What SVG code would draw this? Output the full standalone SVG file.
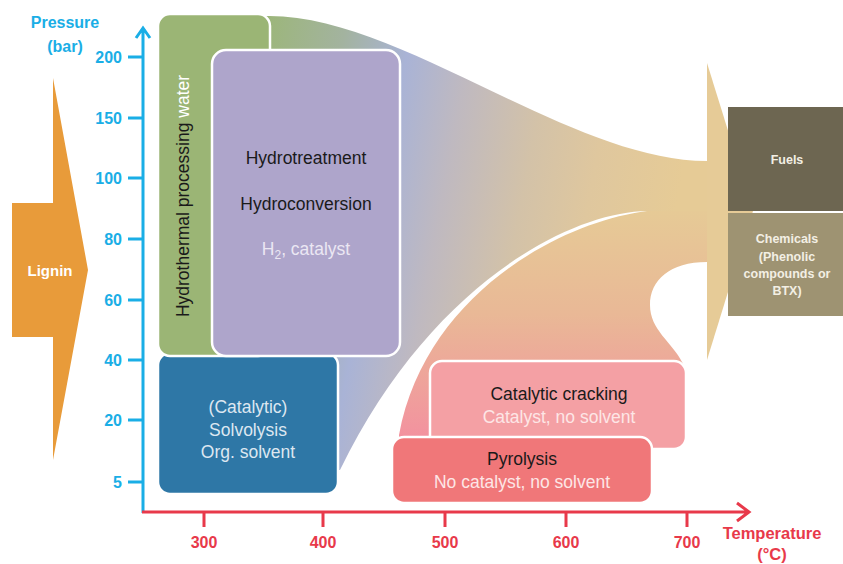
<svg xmlns="http://www.w3.org/2000/svg" width="843" height="564" viewBox="0 0 843 564">
<defs>
<style>
.box{stroke:#fff;stroke-width:2.5}
.t{font-family:"Liberation Sans",Arial,sans-serif;font-size:17.5px;text-anchor:middle}
.b{font-family:"Liberation Sans",Arial,sans-serif;font-weight:bold;text-anchor:middle}
.yl{font-family:"Liberation Sans",Arial,sans-serif;font-weight:bold;font-size:16px;fill:#1aaee6;text-anchor:end}
.xl{font-family:"Liberation Sans",Arial,sans-serif;font-weight:bold;font-size:16px;fill:#e8394a;text-anchor:middle}
.ya{stroke:#1aaee6;stroke-width:3;fill:none}
.xa{stroke:#e8394a;stroke-width:3;fill:none}
</style>
<linearGradient id="gUp" gradientUnits="userSpaceOnUse" x1="270" y1="0" x2="700" y2="80">
<stop offset="0" stop-color="#9cb67a"/>
<stop offset="0.18" stop-color="#a3b39f"/>
<stop offset="0.33" stop-color="#a9b3d6"/>
<stop offset="0.47" stop-color="#bfb9c0"/>
<stop offset="0.65" stop-color="#d3c2a8"/>
<stop offset="0.8" stop-color="#dfc79e"/>
<stop offset="1" stop-color="#e6cb96"/>
</linearGradient>
<linearGradient id="gLow" gradientUnits="userSpaceOnUse" x1="0" y1="211" x2="0" y2="440">
<stop offset="0" stop-color="#e6ca96"/>
<stop offset="0.45" stop-color="#e9b896"/>
<stop offset="1" stop-color="#f3919f"/>
</linearGradient>
</defs>
<rect width="843" height="564" fill="#fff"/>

<g id="connectors">
<path id="flow-upper" d="M268,16 C400,15 570,161 707,161 L707,211 L647,211 C570,212 430,285 340,470 L260,470 L260,16 Z" fill="url(#gUp)"/>
<path id="flow-lower" d="M647,211 L707,211 L707,262 C670,262 650,280 650,305 C650,330 672,342 682,362 L686,370 L686,440 L399,440 L399,435 C425,295 560,222 647,211 Z" fill="url(#gLow)"/>
<polygon id="flow-head" points="707,63 753,211 707,360" fill="#e6cb97"/>
</g>

<g id="lignin">
<polygon points="12,203 53,203 53,78 88,270 53,460 53,337 12,337" fill="#e89b3a"/>
<text class="b" x="50" y="276" font-size="15" fill="#fff">Lignin</text>
</g>

<g id="y-axis">
<path class="ya" d="M143,513 V29 M136,38 L143,28 L150,38"/>
<path class="ya" d="M128,57 H143 M128,118 H143 M128,178 H143 M128,239 H143 M128,300 H143 M128,360 H143 M128,420 H143 M128,482 H143"/>
<text class="yl" x="122" y="63">200</text>
<text class="yl" x="122" y="124">150</text>
<text class="yl" x="122" y="184">100</text>
<text class="yl" x="122" y="245">80</text>
<text class="yl" x="122" y="306">60</text>
<text class="yl" x="122" y="366">40</text>
<text class="yl" x="122" y="426">20</text>
<text class="yl" x="122" y="488">5</text>
<text class="b" x="65" y="28" font-size="16" fill="#1aaee6">Pressure</text>
<text class="b" x="65" y="52" font-size="16" fill="#1aaee6">(bar)</text>
</g>

<g id="x-axis">
<path class="xa" d="M142,512 H748 M737,503 L749,512 L737,521"/>
<path class="xa" d="M204,512 V527 M323,512 V527 M445,512 V527 M566,512 V527 M687,512 V527"/>
<text class="xl" x="204" y="548">300</text>
<text class="xl" x="323" y="548">400</text>
<text class="xl" x="445" y="548">500</text>
<text class="xl" x="566" y="548">600</text>
<text class="xl" x="687" y="548">700</text>
<text class="b" x="772" y="539" font-size="16.5" fill="#e8394a">Temperature</text>
<text class="b" x="772" y="560" font-size="16.5" fill="#e8394a">(°C)</text>
</g>

<g id="solvolysis">
<rect class="box" x="158" y="353" width="180" height="141" rx="12" fill="#2e77a6"/>
<text class="t" x="248" y="413" fill="#dde7f1">(Catalytic)</text>
<text class="t" x="248" y="436" fill="#dde7f1">Solvolysis</text>
<text class="t" x="248" y="458" fill="#dde7f1">Org. solvent</text>
</g>

<g id="hydrothermal">
<rect class="box" x="158" y="14" width="112" height="342" rx="12" fill="#9bb575"/>
<text class="t" transform="translate(189,196) rotate(-90)"><tspan fill="#1a1a1a">Hydrothermal processing </tspan><tspan fill="#fff">water</tspan></text>
</g>

<g id="hydrotreatment">
<rect class="box" x="212" y="50" width="188" height="306" rx="14" fill="#aea5cb"/>
<text class="t" x="306" y="164" fill="#1a1a1a">Hydrotreatment</text>
<text class="t" x="306" y="210" fill="#1a1a1a">Hydroconversion</text>
<text class="t" x="306" y="255" fill="#ebe7f3">H<tspan font-size="12" dy="4">2</tspan><tspan dy="-4">, catalyst</tspan></text>
</g>

<g id="catalytic-cracking">
<rect class="box" x="430" y="361" width="256" height="88" rx="12" fill="#f4a0a4"/>
<text class="t" x="559" y="400" fill="#1a1a1a">Catalytic cracking</text>
<text class="t" x="559" y="423" fill="#fde6e6">Catalyst, no solvent</text>
</g>

<g id="pyrolysis">
<rect class="box" x="392" y="437" width="260" height="66" rx="12" fill="#f07779"/>
<text class="t" x="522" y="465" fill="#1a1a1a">Pyrolysis</text>
<text class="t" x="522" y="488" fill="#fde6e6">No catalyst, no solvent</text>
</g>

<g id="fuels">
<rect x="728" y="107" width="115" height="104" fill="#6d6651"/>
<text class="b" x="787" y="164" font-size="12.5" fill="#f3efe4">Fuels</text>
</g>

<g id="chemicals">
<rect x="728" y="213" width="115" height="103" fill="#9e9372"/>
<text class="b" x="787" y="243" font-size="12.5" fill="#f3efe4">Chemicals</text>
<text class="b" x="787" y="261" font-size="12.5" fill="#f3efe4">(Phenolic</text>
<text class="b" x="787" y="278" font-size="12.5" fill="#f3efe4">compounds or</text>
<text class="b" x="787" y="295" font-size="12.5" fill="#f3efe4">BTX)</text>
</g>
</svg>
